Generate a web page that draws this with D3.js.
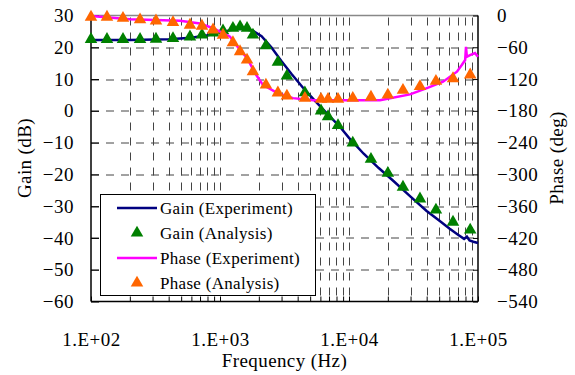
<!DOCTYPE html>
<html>
<head>
<meta charset="utf-8">
<script src="https://cdn.jsdelivr.net/npm/d3@7"></script>
<style>
  html, body { margin: 0; padding: 0; background: #fff; }
  svg { display: block; font-family: "Liberation Serif", "Times New Roman", serif; }
</style>
</head>
<body>
<div id="chart"></div>
<script>
// analysis points share one frequency list (Hz)
const freqAnalysis = [100, 133, 177, 240, 319, 432, 585, 725, 883, 1055, 1260, 1430, 1620, 1800,
  2270, 2810, 3300, 4550, 6070, 6880, 8220, 10700, 14800, 20000, 26200, 35500, 47200, 64000, 87000];
const gainAnalysis = [22.5, 22.5, 22.5, 22.5, 22.6, 22.8, 23.3, 23.9, 24.5, 25.2, 26, 26.5, 26, 23.9,
  20.5, 15.3, 11, 5.7, 0, -1.8, -4.6, -10.1, -15.2, -19.6, -24, -27.7, -31.2, -35, -37.5];
const phaseAnalysis = [-3, -3, -5, -8, -10, -13, -18, -20, -27, -37, -51, -68, -84, -106,
  -131, -146, -152, -156, -158, -158, -158, -156, -154, -150, -141, -134, -124, -119, -112];

// measured curves
const freqGainExp = [100, 200, 400, 600, 800, 1000, 1200, 1500, 1800, 2100, 2500, 3000, 3600, 4500,
  5500, 7000, 8500, 10000, 13000, 17000, 22000, 30000, 40000, 50000, 60000, 70000, 78000, 82000,
  86000, 92000, 100000];
const gainExp = [22.3, 22.3, 22.5, 23, 23.8, 24.6, 25.4, 25.8, 25.2, 23.5, 20, 15.6, 11.5, 6.8,
  3, -1.5, -5, -8.5, -13.5, -18, -22, -27, -31.5, -34.5, -37, -39, -40.3, -39.6,
  -40.8, -41.2, -41.6];

const freqPhaseExp = [100, 200, 490, 700, 883, 1196, 1430, 1620, 1870, 2150, 2770, 3680, 5260,
  10000, 17400, 19000, 29700, 40200, 53600, 68700, 75100, 79500, 80700, 82000, 86700, 94800, 100000];
const phaseExp = [-1, -7, -10, -15, -24, -40, -65, -80, -109, -131, -146, -156, -160,
  -160, -160, -158, -149, -137, -125, -106, -93, -84, -59, -78, -75, -71, -78];

const gainTicks = [30, 20, 10, 0, -10, -20, -30, -40, -50, -60];
const phaseTicks = [0, -60, -120, -180, -240, -300, -360, -420, -480, -540];
const freqTicks = [1e2, 1e3, 1e4, 1e5];
const freqTickLabels = ['1.E+02', '1.E+03', '1.E+04', '1.E+05'];

const legendItems = [
  { label: 'Gain (Experiment)', type: 'line', color: '#000080' },
  { label: 'Gain (Analysis)', type: 'tri', color: '#008000' },
  { label: 'Phase (Experiment)', type: 'line', color: '#ff00ff' },
  { label: 'Phase (Analysis)', type: 'tri', color: '#ff6600' }
];

const width = 575, height = 375;
const margin = { top: 15.5, right: 97, bottom: 73.5, left: 91 };
const w = width - margin.left - margin.right;
const h = height - margin.top - margin.bottom;

const svg = d3.select('#chart').append('svg')
  .attr('width', width)
  .attr('height', height);

const g = svg.append('g')
  .attr('transform', 'translate(' + margin.left + ',' + margin.top + ')');

const x = d3.scaleLog().domain([100, 1e5]).range([0, w]);
const yGain = d3.scaleLinear().domain([-60, 30]).range([h, 0]);
const yPhase = d3.scaleLinear().domain([-540, 0]).range([h, 0]);

// log minor positions 2..9 in every decade
const minorFreqs = [];
[1e2, 1e3, 1e4].forEach(d => { for (let k = 2; k <= 9; k++) minorFreqs.push(d * k); });

// grid
const grid = g.append('g').attr('class', 'grid')
  .attr('stroke', '#444').attr('stroke-width', 1).attr('stroke-dasharray', '8,7');

grid.selectAll('.vgrid').data(minorFreqs.concat([1e3, 1e4]))
  .enter().append('line')
  .attr('x1', d => Math.round(x(d)) + 0.5).attr('x2', d => Math.round(x(d)) + 0.5)
  .attr('y1', 2).attr('y2', h);

grid.selectAll('.hgrid').data(gainTicks.filter(d => d > -60 && d < 30))
  .enter().append('line')
  .attr('x1', 0).attr('x2', w)
  .attr('y1', d => Math.round(yGain(d)) + 0.5).attr('y2', d => Math.round(yGain(d)) + 0.5);

// frame: gray top, black on the other three sides
g.append('line').attr('x1', 0).attr('x2', w).attr('y1', 0).attr('y2', 0)
  .attr('stroke', '#888').attr('stroke-width', 1.5);

const axisLeft = g.append('g')
  .call(d3.axisLeft(yGain).tickValues(gainTicks).tickSize(-8).tickPadding(17).tickFormat(d3.format('d')));
const axisRight = g.append('g')
  .attr('transform', 'translate(' + w + ',0)')
  .call(d3.axisRight(yPhase).tickValues(phaseTicks).tickSize(-5).tickPadding(19).tickFormat(d3.format('d')));
const axisBottom = g.append('g')
  .attr('transform', 'translate(0,' + h + ')')
  .call(d3.axisBottom(x).tickValues(freqTicks.concat(minorFreqs)).tickSize(-5).tickPadding(31)
    .tickFormat(d => { const i = freqTicks.indexOf(d); return i >= 0 ? freqTickLabels[i] : ''; }));

[axisLeft, axisRight, axisBottom].forEach(a => {
  a.select('.domain').attr('stroke', '#000').attr('stroke-width', 1.5);
  a.selectAll('.tick line').attr('stroke', '#000');
  a.selectAll('.tick text').attr('font-size', 19).attr('fill', '#000')
    .attr('letter-spacing', 0.5)
    .attr('font-family', '"Liberation Serif", serif');
});
axisLeft.select('.domain').attr('d', 'M0,' + h + 'V0');
axisRight.select('.domain').attr('d', 'M0,' + h + 'V0');
axisBottom.select('.domain').attr('d', 'M0,0H' + w);

// series
const gainLine = d3.line().x(d => x(d[0])).y(d => yGain(d[1]));
const phaseLine = d3.line().x(d => x(d[0])).y(d => yPhase(d[1]));
const tri = d3.symbol().type(d3.symbolTriangle).size(68);

g.append('path')
  .datum(d3.zip(freqGainExp, gainExp))
  .attr('d', gainLine)
  .attr('fill', 'none').attr('stroke', '#000080').attr('stroke-width', 2.5);

g.selectAll('.gainPt').data(d3.zip(freqAnalysis, gainAnalysis))
  .enter().append('path')
  .attr('class', 'gainPt')
  .attr('transform', d => 'translate(' + x(d[0]) + ',' + yGain(d[1]) + ')')
  .attr('d', tri).attr('fill', '#008000');

g.append('path')
  .datum(d3.zip(freqPhaseExp, phaseExp))
  .attr('d', phaseLine)
  .attr('fill', 'none').attr('stroke', '#ff00ff').attr('stroke-width', 2.5);

g.selectAll('.phasePt').data(d3.zip(freqAnalysis, phaseAnalysis))
  .enter().append('path')
  .attr('class', 'phasePt')
  .attr('transform', d => 'translate(' + x(d[0]) + ',' + yPhase(d[1]) + ')')
  .attr('d', tri).attr('fill', '#ff6600');

// axis titles
svg.append('text')
  .attr('transform', 'translate(31,158) rotate(-90)')
  .attr('text-anchor', 'middle').attr('font-size', 19).attr('letter-spacing', 0.4)
  .text('Gain (dB)');
svg.append('text')
  .attr('transform', 'translate(563,158) rotate(-90)')
  .attr('text-anchor', 'middle').attr('font-size', 19).attr('letter-spacing', 0.4)
  .text('Phase (deg)');
svg.append('text')
  .attr('x', margin.left + w / 2).attr('y', 367)
  .attr('text-anchor', 'middle').attr('font-size', 19).attr('letter-spacing', 0.4)
  .text('Frequency (Hz)');

// legend
const legend = svg.append('g').attr('transform', 'translate(100,194)');
legend.append('rect')
  .attr('x', 0.5).attr('y', 0.5).attr('width', 215).attr('height', 101)
  .attr('fill', '#fff').attr('stroke', '#000').attr('stroke-width', 1);

const rows = legend.selectAll('.row').data(legendItems)
  .enter().append('g')
  .attr('transform', (d, i) => 'translate(0,' + (14 + i * 25) + ')');

rows.filter(d => d.type === 'line').append('line')
  .attr('x1', 17).attr('x2', 57).attr('y1', 0).attr('y2', 0)
  .attr('stroke', d => d.color).attr('stroke-width', 2.5);
rows.filter(d => d.type === 'tri').append('path')
  .attr('transform', 'translate(37,0)')
  .attr('d', tri).attr('fill', d => d.color);
rows.append('text')
  .attr('x', 60).attr('y', 0).attr('dy', '0.33em')
  .attr('font-size', 17).attr('letter-spacing', 0.3)
  .text(d => d.label);
</script>
</body>
</html>
